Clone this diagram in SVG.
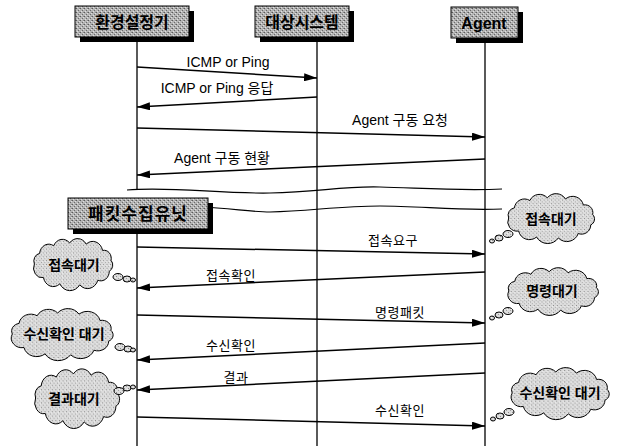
<svg xmlns="http://www.w3.org/2000/svg" width="622" height="446" viewBox="0 0 622 446">
<style>
  .lbl { font-family: "Liberation Sans", "Noto Sans CJK KR", sans-serif; font-size: 14px; fill: #000; text-anchor: middle; }
  .klbl { font-family: "Liberation Sans", "Noto Sans CJK KR", sans-serif; font-size: 13px; fill: #000; text-anchor: middle; letter-spacing: 0.5px; }
  .hdr { font-family: "Liberation Sans", "Noto Sans CJK KR", sans-serif; font-size: 16px; font-weight: bold; fill: #000; text-anchor: middle; }
  .ctext { font-family: "Liberation Sans", "Noto Sans CJK KR", sans-serif; font-size: 14px; font-weight: bold; fill: #000; text-anchor: middle; }
  .box { fill: url(#stipHdr); stroke: #000; stroke-width: 1; }
  .shadow { fill: #000; }
  .life { stroke: #000; stroke-width: 1.3; fill: none; }
  .msg { stroke: #000; stroke-width: 1.5; fill: none; marker-end: url(#arr); }
  .wave { stroke: #000; stroke-width: 1.2; fill: none; }
  .cloud { fill: url(#stipCloud); stroke: #000; stroke-width: 1; vector-effect: non-scaling-stroke; }
  .bub { fill: url(#stipCloud); stroke: #000; stroke-width: 1; }
</style>
<defs>
  <pattern id="stipHdr" width="4" height="4" patternUnits="userSpaceOnUse">
    <rect width="4" height="4" fill="#b4b4b4"/>
    <rect x="0" y="0" width="1" height="1" fill="#5a5a5a"/>
    <rect x="2" y="2" width="1" height="1" fill="#6a6a6a"/>
    <rect x="3" y="0" width="1" height="1" fill="#8a8a8a"/>
    <rect x="1" y="3" width="1" height="1" fill="#e0e0e0"/>
    <rect x="3" y="1" width="1" height="1" fill="#e0e0e0"/>
  </pattern>
  <pattern id="stipCloud" width="4" height="4" patternUnits="userSpaceOnUse">
    <rect width="4" height="4" fill="#dcdcdc"/>
    <rect x="0" y="0" width="1" height="1" fill="#8a8a8a"/>
    <rect x="2" y="2" width="1" height="1" fill="#a0a0a0"/>
    <rect x="3" y="1" width="1" height="1" fill="#f2f2f2"/>
  </pattern>
  <marker id="arr" markerUnits="userSpaceOnUse" markerWidth="13" markerHeight="8" refX="13" refY="4" orient="auto">
    <path d="M0,0 L13,4 L0,8 Z" fill="#000"/>
  </marker>
  <path id="cloudShape" class="cloud" d="M -46,0 A 8 8 0 0 1 -39.8,-11 A 11 11 0 0 1 -23,-19 A 11.5 11.5 0 0 1 -4,-21.9 A 12 12 0 0 1 15.7,-20.7 A 12 12 0 0 1 35.2,-14.1 A 8.5 8.5 0 0 1 45.3,-3.8 A 7 7 0 0 1 43.2,7.5 A 10 10 0 0 1 29.6,16.9 A 13 13 0 0 1 8,21.7 A 14 14 0 0 1 -15.7,20.7 A 12 12 0 0 1 -35.2,14.1 A 10 10 0 0 1 -46,0 Z"/>
</defs>
<rect width="622" height="446" fill="#fff"/>

<g id="lifelines">
  <line class="life" x1="137" y1="38" x2="137" y2="190"/>
  <line class="life" x1="137" y1="228" x2="137" y2="446"/>
  <line class="life" x1="317" y1="38" x2="317" y2="446"/>
  <line class="life" x1="485" y1="38" x2="485" y2="446"/>
</g>

<g id="breaks">
  <path class="wave" d="M127,190 C170,186 220,194 270,193 C320,192 340,186 380,187 C420,188 460,191 502,189"/>
  <path class="wave" d="M200,207 C230,208 250,212 270,212 C310,211 340,206 380,206 C420,206 460,211 502,209"/>
</g>

<g id="connectors">
  <line class="msg" x1="137" y1="67" x2="317" y2="78"/>
  <line class="msg" x1="317" y1="97" x2="137" y2="107"/>
  <line class="msg" x1="137" y1="128" x2="485" y2="137"/>
  <line class="msg" x1="485" y1="159" x2="137" y2="175"/>
  <line class="msg" x1="137" y1="247" x2="485" y2="254"/>
  <line class="msg" x1="485" y1="272" x2="137" y2="288"/>
  <line class="msg" x1="137" y1="315" x2="485" y2="323"/>
  <line class="msg" x1="485" y1="343" x2="137" y2="360"/>
  <line class="msg" x1="485" y1="373" x2="137" y2="390"/>
  <line class="msg" x1="137" y1="417" x2="485" y2="426"/>
  <text class="lbl" x="228" y="67">ICMP or Ping</text>
  <text class="lbl" x="217" y="93">ICMP or Ping 응답</text>
  <text class="lbl" x="400" y="125">Agent 구동 요청</text>
  <text class="lbl" x="222" y="163">Agent 구동 현황</text>
  <text class="klbl" x="393" y="245">접속요구</text>
  <text class="klbl" x="231" y="280">접속확인</text>
  <text class="klbl" x="400" y="317">명령패킷</text>
  <text class="klbl" x="231" y="350">수신확인</text>
  <text class="klbl" x="236" y="382">결과</text>
  <text class="klbl" x="400" y="415">수신확인</text>
</g>

<g id="node-config">
  <rect class="shadow" x="80" y="11" width="114" height="31"/>
  <rect class="box" x="75" y="6" width="114" height="31"/>
  <text class="hdr" x="132" y="28">환경설정기</text>
</g>
<g id="node-target">
  <rect class="shadow" x="260" y="11" width="94" height="31"/>
  <rect class="box" x="255" y="6" width="94" height="31"/>
  <text class="hdr" x="302" y="28">대상시스템</text>
</g>
<g id="node-agent">
  <rect class="shadow" x="456" y="12" width="67" height="31"/>
  <rect class="box" x="451" y="7" width="67" height="31"/>
  <text class="hdr" x="484" y="29">Agent</text>
</g>
<g id="node-collector">
  <rect class="shadow" x="73" y="203" width="140" height="31"/>
  <rect class="box" x="68" y="198" width="140" height="31"/>
  <text class="hdr" x="138" y="220" style="font-size:17px;letter-spacing:1px">패킷수집유닛</text>
</g>

<g id="cloud-r1">
  <use href="#cloudShape" transform="translate(551,218) scale(0.92,0.92)"/>
  <ellipse class="bub" cx="508" cy="234" rx="5" ry="3.5"/>
  <ellipse class="bub" cx="499" cy="238" rx="4" ry="3"/>
  <ellipse class="bub" cx="492" cy="241" rx="2.5" ry="2"/>
  <text class="ctext" x="551" y="224">접속대기</text>
</g>
<g id="cloud-r2">
  <use href="#cloudShape" transform="translate(553,291) scale(0.96,0.88)"/>
  <ellipse class="bub" cx="508" cy="311" rx="5" ry="3.5"/>
  <ellipse class="bub" cx="499" cy="315" rx="4" ry="3"/>
  <ellipse class="bub" cx="492" cy="318" rx="2.5" ry="2"/>
  <text class="ctext" x="552" y="296">명령대기</text>
</g>
<g id="cloud-r3">
  <use href="#cloudShape" transform="translate(560,393) scale(1.04,0.96)"/>
  <ellipse class="bub" cx="509" cy="412" rx="5" ry="3.5"/>
  <ellipse class="bub" cx="500" cy="416" rx="4" ry="3"/>
  <ellipse class="bub" cx="493" cy="419" rx="2.5" ry="2"/>
  <text class="ctext" x="560" y="398">수신확인 대기</text>
</g>
<g id="cloud-l1">
  <use href="#cloudShape" transform="translate(73,264) scale(0.84,0.96)"/>
  <ellipse class="bub" cx="118" cy="277" rx="5" ry="3.5"/>
  <ellipse class="bub" cx="127" cy="279" rx="4" ry="3"/>
  <ellipse class="bub" cx="133" cy="280" rx="2.5" ry="2"/>
  <text class="ctext" x="74" y="270">접속대기</text>
</g>
<g id="cloud-l2">
  <use href="#cloudShape" transform="translate(62,334) scale(1.08,0.96)"/>
  <ellipse class="bub" cx="120" cy="347" rx="5" ry="3.5"/>
  <ellipse class="bub" cx="128" cy="349" rx="4" ry="3"/>
  <ellipse class="bub" cx="133" cy="350" rx="2.5" ry="2"/>
  <text class="ctext" x="64" y="339">수신확인 대기</text>
</g>
<g id="cloud-l3">
  <use href="#cloudShape" transform="translate(77,398) scale(0.9,1.1)"/>
  <ellipse class="bub" cx="119" cy="391" rx="5" ry="3.5"/>
  <ellipse class="bub" cx="127" cy="388" rx="4" ry="3"/>
  <ellipse class="bub" cx="133" cy="387" rx="2.5" ry="2"/>
  <text class="ctext" x="74" y="404">결과대기</text>
</g>
</svg>
